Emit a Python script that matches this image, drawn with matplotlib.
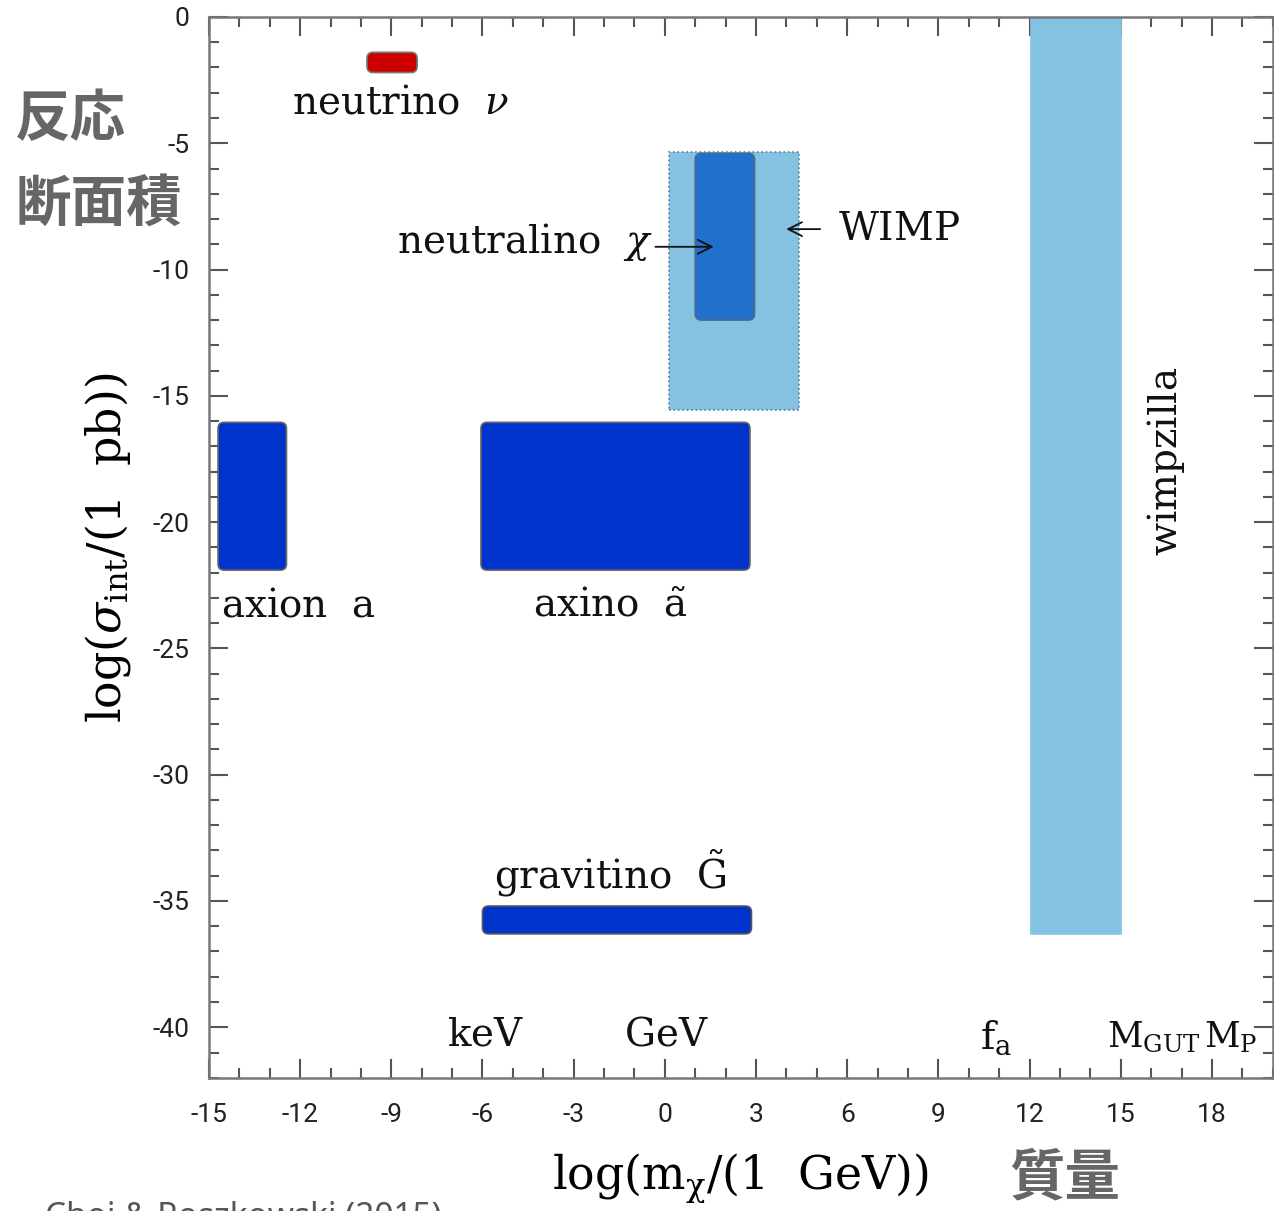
import matplotlib.pyplot as plt
from matplotlib.patches import FancyBboxPatch, Rectangle
from matplotlib.ticker import MultipleLocator

plt.rcParams['mathtext.fontset'] = 'dejavuserif'

# 各粒子の領域: log(m/GeV) と log(sigma/pb) の範囲
names = ['neutrino', 'WIMP', 'neutralino', 'axion', 'axino', 'gravitino', 'wimpzilla']
x_lo = [-9.8, 0.15, 1.0, -14.7, -6.05, -6.0, 12.05]
x_hi = [-8.15, 4.4, 2.95, -12.45, 2.8, 2.85, 15.0]
y_lo = [-2.2, -15.55, -12.0, -21.9, -21.9, -36.3, -36.3]
y_hi = [-1.4, -5.35, -5.4, -16.05, -16.05, -35.2, 0.0]

colors = ['#cc0000', '#85c1e0', '#2070cc', '#0033cc', '#0033cc', '#0033cc', '#85c1e0']
edges = ['#777777', '#5a7f9a', '#4a6a90', '#666666', '#666666', '#555555', '#85c1e0']
styles = ['-', ':', '-', '-', '-', '-', '-']
rounded = [True, False, True, True, True, True, False]

x_ticks = list(range(-15, 19, 3))
y_ticks = list(range(-40, 1, 5))

fig = plt.figure(figsize=(12.74, 12.11), dpi=100)
ax = fig.add_axes([0.164, 0.110, 0.835, 0.876])
ax.set_xlim(-15, 20)
ax.set_ylim(-42, 0)

for i in range(len(names)):
    w = x_hi[i] - x_lo[i]
    h = y_hi[i] - y_lo[i]
    if rounded[i]:
        p = FancyBboxPatch((x_lo[i], y_lo[i]), w, h,
                           boxstyle='round,pad=0,rounding_size=0.2',
                           mutation_aspect=1.2, fc=colors[i], ec=edges[i],
                           lw=1.2, ls=styles[i], zorder=2 + (names[i] == 'neutralino'))
    else:
        p = Rectangle((x_lo[i], y_lo[i]), w, h, fc=colors[i], ec=edges[i],
                      lw=1.2, ls=styles[i], zorder=2)
    ax.add_patch(p)

# 図中のラベル
tk = dict(fontsize=28, color='#111111')
ax.text(-8.7, -3.4, r'$\mathrm{neutrino}\ \ \nu$', ha='center', va='center', **tk)
ax.text(-0.4, -8.9, r'$\mathrm{neutralino}\ \ \chi$', ha='right', va='center', **tk)
ax.annotate('', xy=(1.7, -9.1), xytext=(-0.4, -9.1),
            arrowprops=dict(arrowstyle='->', color='#111111', lw=1.3, mutation_scale=25))
ax.annotate('', xy=(3.9, -8.4), xytext=(5.2, -8.4),
            arrowprops=dict(arrowstyle='->', color='#111111', lw=1.3, mutation_scale=25))
ax.text(5.7, -8.4, r'$\mathrm{WIMP}$', ha='left', va='center', **tk)
ax.text(16.5, -17.6, r'$\mathrm{wimpzilla}$', ha='center', va='center', rotation=90, **tk)
ax.text(-14.6, -23.3, r'$\mathrm{axion}\ \ \mathrm{a}$', ha='left', va='center', **tk)
ax.text(-1.8, -23.3, r'$\mathrm{axino}\ \ \tilde{\mathrm{a}}$', ha='center', va='center', **tk)
ax.text(-1.8, -33.9, r'$\mathrm{gravitino}\ \ \tilde{\mathrm{G}}$', ha='center', va='center', **tk)
ax.text(-5.9, -40.3, r'$\mathrm{keV}$', ha='center', va='center', **tk)
ax.text(0.05, -40.3, r'$\mathrm{GeV}$', ha='center', va='center', **tk)
ax.text(10.9, -40.4, r'$\mathrm{f_a}$', ha='center', va='center', **tk)
ax.text(14.55, -40.4, r'$\mathrm{M_{GUT}}$', ha='left', va='center', fontsize=25, color='#111111')
ax.text(17.75, -40.4, r'$\mathrm{M_P}$', ha='left', va='center', fontsize=25, color='#111111')

# 軸
ax.xaxis.set_minor_locator(MultipleLocator(1))
ax.yaxis.set_minor_locator(MultipleLocator(1))
ax.set_xticks(x_ticks)
ax.set_xticklabels([str(v) for v in x_ticks])
ax.set_yticks(y_ticks)
ax.set_yticklabels([str(v) for v in y_ticks])
ax.tick_params(which='both', direction='in', top=True, right=True, color='#555555',
               width=1.5, labelsize=19, labelcolor='#222222')
ax.tick_params(axis='x', pad=18)
ax.tick_params(axis='y', pad=14)
ax.tick_params(which='major', length=14)
ax.tick_params(which='minor', length=7)
for lab in ax.get_xticklabels() + ax.get_yticklabels():
    lab.set_family('Roboto')
for s in ax.spines.values():
    s.set_color('#777777')
    s.set_linewidth(1.8)

ax.set_xlabel(r'$\log(\mathrm{m_\chi}/(1\ \ \mathrm{GeV}))$', fontsize=33, labelpad=18)
ax.set_ylabel(r'$\log(\sigma_\mathrm{int}/(1\ \ \mathrm{pb}))$', fontsize=33, labelpad=14)

# 日本語ラベル
jp = dict(family=['Noto Sans CJK JP', 'DejaVu Sans'], weight='bold', color='#666666', fontsize=40)
fig.text(0.012, 0.901, '反応', ha='left', va='center', **jp)
fig.text(0.012, 0.831, '断面積', ha='left', va='center', **jp)
fig.text(0.792, 0.027, '質量', ha='left', va='center', **jp)
fig.text(0.035, 0.0085, 'Choi & Roszkowski (2015)', ha='left', va='top',
         family='Noto Sans', weight='bold', color='#555555', fontsize=24)

fig.savefig('out.png', dpi=100)
